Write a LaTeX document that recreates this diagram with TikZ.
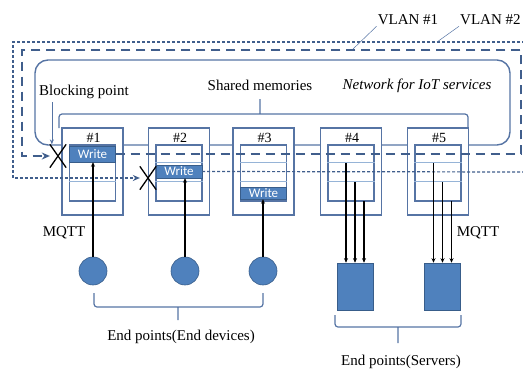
\documentclass[tikz,border=0pt]{standalone}
\usepackage{fontspec}
\setmainfont{Liberation Serif}
\newfontfamily\writefont{Carlito}
\usetikzlibrary{arrows.meta,positioning,calc,shapes.misc}
\definecolor{memblue}{RGB}{79,129,189}
\definecolor{memedge}{RGB}{56,93,138}
\definecolor{boxblue}{RGB}{86,116,164}
\definecolor{vlanblue}{RGB}{64,94,140}
\definecolor{rowblue}{RGB}{150,180,215}

\begin{document}
\begin{tikzpicture}[x=1pt,y=-1pt,font=\fontsize{15}{17}\selectfont,
    membox/.style={rectangle, draw=boxblue, fill=white, line width=1.3pt, minimum width=61pt,
                   minimum height=87pt, inner sep=0pt},
    cellbox/.style={rectangle, draw=boxblue, line width=1.3pt, minimum width=46pt,
                    minimum height=56pt, inner sep=0pt},
    writebox/.style={rectangle, draw=memedge, fill=memblue, minimum width=46pt, minimum height=#1,
                     inner sep=0pt, text=white, font=\writefont\fontsize{13}{13}\selectfont},
    blockx/.style={cross out, draw=black, line width=1.3pt, minimum width=15pt,
                   minimum height=22pt, inner sep=0pt},
    device/.style={circle, fill=memblue, draw=memedge, line width=0.6pt, minimum size=28pt, inner sep=0pt},
    server/.style={rectangle, fill=memblue, draw=memedge, line width=0.6pt, minimum width=36pt,
                   minimum height=47pt, inner sep=0pt},
    bracket/.style={draw=boxblue, line width=1.2pt, rounded corners=3pt},
    vlanone/.style={draw=vlanblue, line width=1.6pt, dash pattern=on 9pt off 6pt},
    vlantwo/.style={draw=vlanblue, line width=1.2pt, dash pattern=on 3pt off 2pt},
    leader/.style={draw=boxblue, line width=0.5pt},
    data/.style={draw=black, line width=1.1pt, -{Stealth[length=4.5pt,width=4pt]}}]
\useasboundingbox (0,0) rectangle (523,370);

% network for IoT services
\draw[draw=boxblue, line width=1.4pt, rounded corners=13pt] (35,60) rectangle (510,145);
\node (net) at (417,86) {\itshape Network for IoT services};
\node (shm) at (260,85) {Shared memories};
\node (bp) at (84,92) {Blocking point};
\draw[bracket] (59,128) -- (59,114) -- (468,114) -- (468,128) (260,114) -- (260,99);

% shared memories #1..#5
\foreach \i/\x in {1/92.5,2/179,3/263.5,4/351,5/438}{
  \node[membox] (m\i) at (\x,171.5) {};
  \node[cellbox] (in\i) at (\x,173) {};
  \draw[rowblue, line width=0.9pt] ($(in\i.north west)+(0,18)$) -- ($(in\i.north east)+(0,18)$)
     ($(in\i.north west)+(0,37)$) -- ($(in\i.north east)+(0,37)$);
  \node[font=\fontsize{14}{14}\selectfont] (n\i) at (\x+1,138) {\#\i};
}
\node[writebox=16pt] (w1) at (92.5,154) {Write};
\node[writebox=13pt] (w2) at (179,171.5) {Write};
\node[writebox=12pt] (w3) at (263.5,193) {Write};

% blocking points
\node[blockx] (x1) at (58,156) {};
\node[blockx] (x2) at (148,178) {};
\coordinate (bpend) at ([xshift=2pt]x1.north west);
\draw[boxblue, line width=0.6pt, -{Stealth[length=5pt,width=4pt]}] (bpend |- bp.south) -- (bpend);

% VLANs
\draw[vlanone, -{Stealth[length=8pt,width=7pt]}] (w1.east) -- (521,154) -- (521,50) -- (22,50)
  -- (22,156) -- (x1.west);
\draw[vlantwo, -{Stealth[length=7pt,width=6pt]}] (530,42) -- (13,42) -- (13,178) -- (x2.west);
\draw[vlantwo] (w2.east) -- (530,172);
\node[inner sep=1pt] (v1) at (408,20) {VLAN \#1};
\node[inner sep=1pt, anchor=west] (v2) at (459,20) {VLAN \#2};
\draw[leader] (v1.south west) -- (353,49);
\draw[leader] (v2.south west) -- (437,42);

% end devices
\node[device] (d1) at (93,271) {};
\node[device] (d2) at (185,271) {};
\node[device] (d3) at (263,271) {};
\foreach \d/\w in {d1/w1,d2/w2,d3/w3}
  \draw[data] (\d.north) -- (\d.north |- \w.south);
\node (mq1) at (64,233) {MQTT};

% servers
\node[server] (s1) at (355,286.5) {};
\node[server] (s2) at (442.5,286.5) {};
\foreach \s in {s1,s2}
  \foreach \dx/\yy in {-9/163,0/182,9/201}{
    \coordinate (tip) at ([xshift=\dx pt]\s.north);
    \draw[data] (tip |- 0,\yy) -- (tip);
  }
\node (mq2) at (478,233) {MQTT};

% end points
\draw[bracket] (94,293) -- (94,307) -- (263,307) -- (263,293) (178,307) -- (178,320);
\node (ed) at (181,337) {End points(End devices)};
\draw[bracket] (335,315) -- (335,327) -- (461,327) -- (461,315) (398,327) -- (398,343);
\node (es) at (401,362) {End points(Servers)};
\end{tikzpicture}
\end{document}
